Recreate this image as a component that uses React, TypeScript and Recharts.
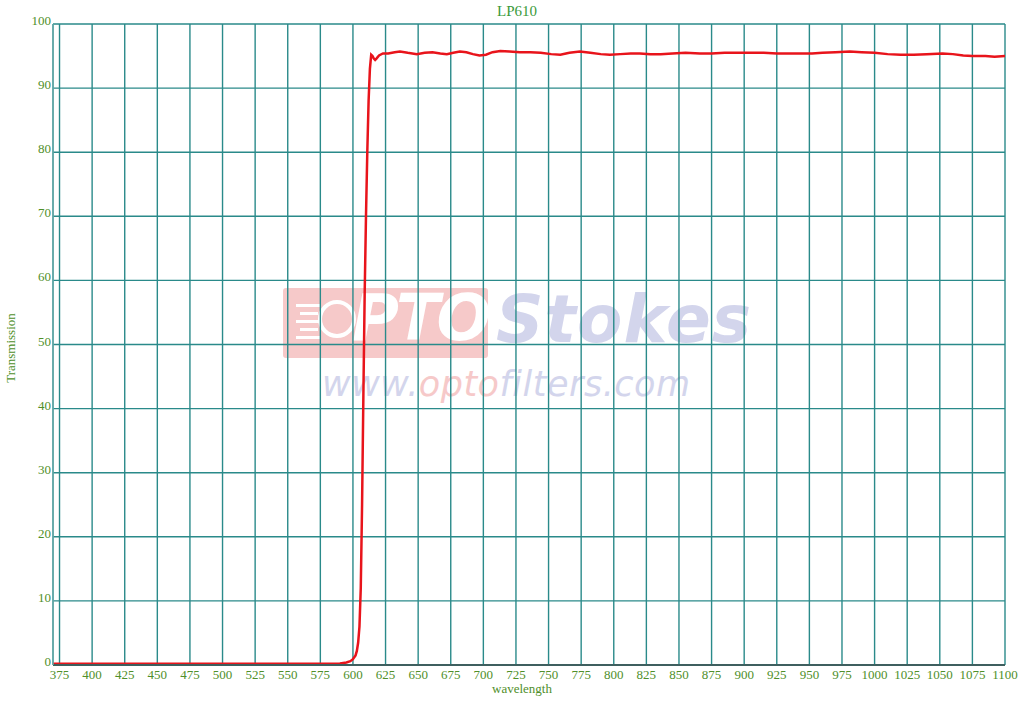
import React from 'react';
import { LineChart, Line, XAxis, YAxis, CartesianGrid } from 'recharts';

const wavelengths = [
  370, 400, 450, 500, 550, 580, 590, 595, 598, 600, 602, 603, 604, 605, 606, 607, 608, 609, 610, 611,
  612, 613, 614, 615, 616, 617, 618, 620, 623, 627, 632, 636, 642, 649, 655, 661, 667, 672, 677, 682,
  687, 692, 697, 702, 707, 713, 720, 728, 736, 744, 752, 759, 766, 774, 782, 790, 797, 805, 813, 820,
  828, 836, 845, 855, 866, 875, 885, 895, 904, 915, 925, 935, 943, 952, 960, 970, 981, 990, 1000, 1010,
  1020, 1030, 1040, 1052, 1060, 1068, 1075, 1085, 1092, 1100,
];
const transmission = [
  0.2, 0.2, 0.2, 0.2, 0.2, 0.2, 0.25, 0.4, 0.6, 0.9, 1.5, 2.2, 3.5, 6, 12, 25, 42, 58, 70, 80,
  88, 93, 95.2, 95.0, 94.6, 94.4, 94.6, 95.1, 95.4, 95.4, 95.6, 95.7, 95.5, 95.3, 95.5, 95.6, 95.4, 95.3, 95.5, 95.7,
  95.6, 95.3, 95.1, 95.2, 95.6, 95.8, 95.7, 95.6, 95.6, 95.5, 95.3, 95.2, 95.5, 95.7, 95.5, 95.3, 95.2, 95.3, 95.4, 95.4,
  95.3, 95.3, 95.4, 95.5, 95.4, 95.4, 95.5, 95.5, 95.5, 95.5, 95.4, 95.4, 95.4, 95.4, 95.5, 95.6, 95.7, 95.6, 95.5, 95.3,
  95.2, 95.2, 95.3, 95.4, 95.3, 95.1, 95.0, 95.0, 94.9, 95.0,
];
const xTicks = [
  375, 400, 425, 450, 475, 500, 525, 550, 575, 600, 625, 650, 675, 700, 725, 750, 775, 800, 825, 850,
  875, 900, 925, 950, 975, 1000, 1025, 1050, 1075, 1100,
];
const yTicks = [0, 10, 20, 30, 40, 50, 60, 70, 80, 90, 100];

const data = wavelengths.map((w, i) => ({ w, t: transmission[i] }));

const FONT = '"Liberation Serif", "Times New Roman", serif';
const LABEL = '#4f8f2a';
const GRID = '#2a8a8a';

const XTick = (props: any) => {
  const { x, y, payload } = props;
  return (
    <text x={x} y={y + 6} textAnchor="middle" fontFamily={FONT} fontSize={13} fill={LABEL}>
      {payload.value}
    </text>
  );
};

const YTick = (props: any) => {
  const { y, payload } = props;
  return (
    <text x={51} y={y + 1} textAnchor="end" fontFamily={FONT} fontSize={13} fill={LABEL}>
      {payload.value}
    </text>
  );
};

export default function App() {
  return (
    <div style={{ position: 'absolute', left: 0, top: 0, width: 1024, height: 703, background: '#fff', fontFamily: FONT }}>
      {/* watermark */}
      <div style={{ position: 'absolute', left: 283, top: 288, width: 205, height: 70, background: '#f6c9c9', borderRadius: 3 }} />
      <div style={{ position: 'absolute', left: 296, top: 300, width: 38, height: 44 }}>
        {[0, 1, 2, 3, 4].map((i) => (
          <div key={i} style={{ position: 'absolute', left: i % 2 ? 4 : 0, top: 4 + i * 8, width: 24 - (i % 2) * 6, height: 3, background: '#fff' }} />
        ))}
      </div>
      <div style={{ position: 'absolute', left: 318, top: 300, width: 38, height: 38, borderRadius: '50%', border: '4px solid #fff', boxSizing: 'border-box' }} />
      <div style={{ position: 'absolute', left: 352, top: 281, fontFamily: '"DejaVu Sans", sans-serif', fontWeight: 'bold', fontStyle: 'italic', fontSize: 64, color: '#fff', letterSpacing: -3 }}>
        PTO
      </div>
      <div style={{ position: 'absolute', left: 496, top: 281, fontFamily: '"DejaVu Sans", sans-serif', fontWeight: 'bold', fontStyle: 'italic', fontSize: 66, color: '#d3d5ec', letterSpacing: 1 }}>
        Stokes
      </div>
      <div style={{ position: 'absolute', left: 322, top: 364, fontFamily: '"DejaVu Sans", sans-serif', fontStyle: 'italic', fontSize: 35, color: '#d3d5ec', letterSpacing: 0.5 }}>
        www.<span style={{ color: '#f6c9c9' }}>opto</span>filters.com
      </div>

      <div style={{ position: 'absolute', left: 0, top: 0 }}>
        <LineChart width={1024} height={703} data={data} margin={{ top: 24, right: 19, left: 0, bottom: 0 }}>
          <CartesianGrid stroke={GRID} strokeWidth={1.4} />
          <XAxis
            dataKey="w"
            type="number"
            domain={[370, 1100]}
            ticks={xTicks}
            allowDataOverflow
            height={38}
            tickLine={false}
            axisLine={{ stroke: '#3f5f5f', strokeWidth: 2 }}
            tick={<XTick />}
            interval={0}
          />
          <YAxis
            type="number"
            domain={[0, 100]}
            ticks={yTicks}
            width={53}
            tickLine={false}
            axisLine={{ stroke: '#6aabab', strokeWidth: 1.4 }}
            tick={<YTick />}
            interval={0}
          />
          <Line dataKey="t" type="linear" stroke="#e8141b" strokeWidth={2.5} dot={false} isAnimationActive={false} />
        </LineChart>
      </div>

      <div style={{ position: 'absolute', left: 0, width: 1024, top: 3, textAlign: 'center', fontSize: 15, color: '#3a9a3a', paddingLeft: 10, boxSizing: 'border-box' }}>LP610</div>
      <div style={{ position: 'absolute', left: 0, width: 1024, top: 681, textAlign: 'center', fontSize: 13, color: LABEL, paddingLeft: 20, boxSizing: 'border-box' }}>wavelength</div>
      <div style={{ position: 'absolute', left: 11, top: 348, transform: 'translate(-50%, -50%) rotate(-90deg)', fontSize: 13, color: LABEL, whiteSpace: 'nowrap' }}>Transmission</div>
    </div>
  );
}
